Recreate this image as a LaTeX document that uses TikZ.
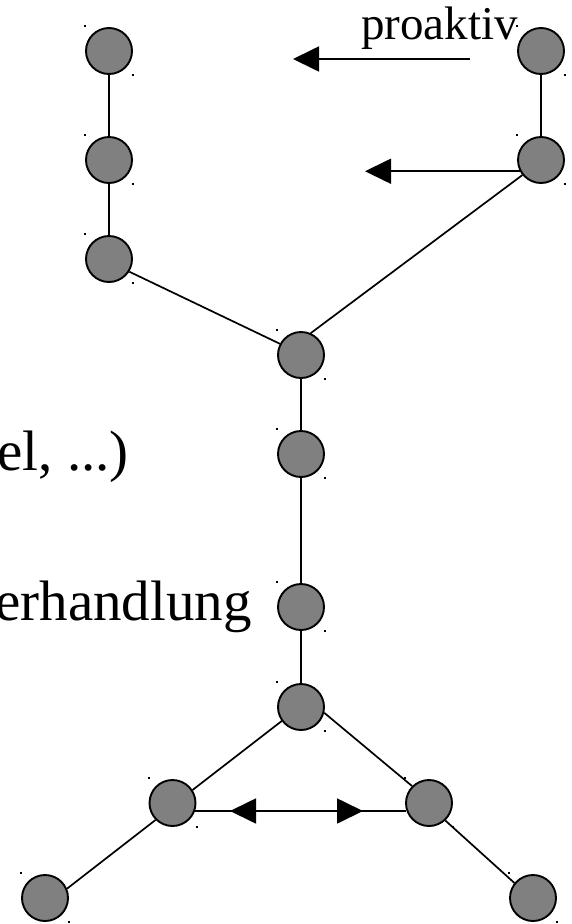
\documentclass[tikz,border=0pt]{standalone}
\usepackage{fontspec}
\setmainfont{Liberation Serif}
\usetikzlibrary{arrows.meta}
\definecolor{nodegray}{RGB}{128,128,128}
\begin{document}
\begin{tikzpicture}[x=1pt,y=-1pt,
  vtx/.style={circle,draw=black,fill=nodegray,line width=1.9pt,minimum size=46pt,inner sep=0pt},
  edge/.style={line width=1.7pt},
  arr/.style={line width=1.7pt,-{Triangle[length=26pt,width=25pt]}},
  lbl/.style={inner sep=0pt,font=\fontsize{57}{62}\selectfont},
  smalllbl/.style={inner sep=0pt,font=\fontsize{47}{52}\selectfont}]
\useasboundingbox (0,0) rectangle (572,924);
\clip (0,0) rectangle (572,924);
% nodes
\node[vtx] (a1) at (109,51) {};
\node[vtx] (a2) at (109,160) {};
\node[vtx] (a3) at (109,259) {};
\node[vtx] (b1) at (541,51) {};
\node[vtx] (b2) at (541,160) {};
\node[vtx] (m1) at (301,355) {};
\node[vtx] (m2) at (301,454) {};
\node[vtx] (m3) at (301,607) {};
\node[vtx] (m4) at (301,707) {};
\node[vtx] (l) at (172.5,803) {};
\node[vtx] (r) at (429,803) {};
\node[vtx] (bl) at (45,898) {};
\node[vtx] (br) at (533,898) {};
% tiny corner marks
\foreach \n in {a1,a2,a3,b1,b2,m1,m2,m3,m4,l,r,bl,br}{
  \fill ([shift={(-25,-26)}]\n.center) rectangle ++(2,2);
  \fill ([shift={(23,23)}]\n.center) rectangle ++(2,2);
}
% texts
\node[smalllbl,anchor=base east] (tpro) at (518,39) {proaktiv};
\node[lbl,anchor=base east] (tel) at (129,470) {el, ...)};
\node[lbl,anchor=base east] (tver) at (252,620) {erhandlung};
% edges
\draw[edge] (a1) -- (a2);
\draw[edge] (a2) -- (a3);
\draw[edge] (a3.-32) -- (m1.152);
\draw[edge] (b1) -- (b2);
\draw[edge] (b2.-141) -- (m1.66);
\draw[edge] (m1) -- (m2);
\draw[edge] (m2) -- (m3);
\draw[edge] (m3) -- (m4);
\draw[edge] (m4.-144) -- (l.33);
\draw[edge] (m4.-14) -- (r.135);
\draw[edge] (l.-135) -- (bl.23);
\draw[edge] (r.-47) -- (br.141);
\draw[edge] (l.-20) -- (r.-160);
% arrows
\coordinate (t1s) at (470,59);
\coordinate (t1e) at (293,59);
\draw[arr] (t1s) -- (t1e);
\coordinate (t2) at (365,171);
\draw[arr] (b2.-152) -- (b2.-152 -| t2);
\coordinate (bm) at (296,811);
\coordinate (bll) at (230,811);
\coordinate (brr) at (363,811);
\draw[arr] (bm) -- (bll);
\draw[arr] (bm) -- (brr);
\end{tikzpicture}
\end{document}
